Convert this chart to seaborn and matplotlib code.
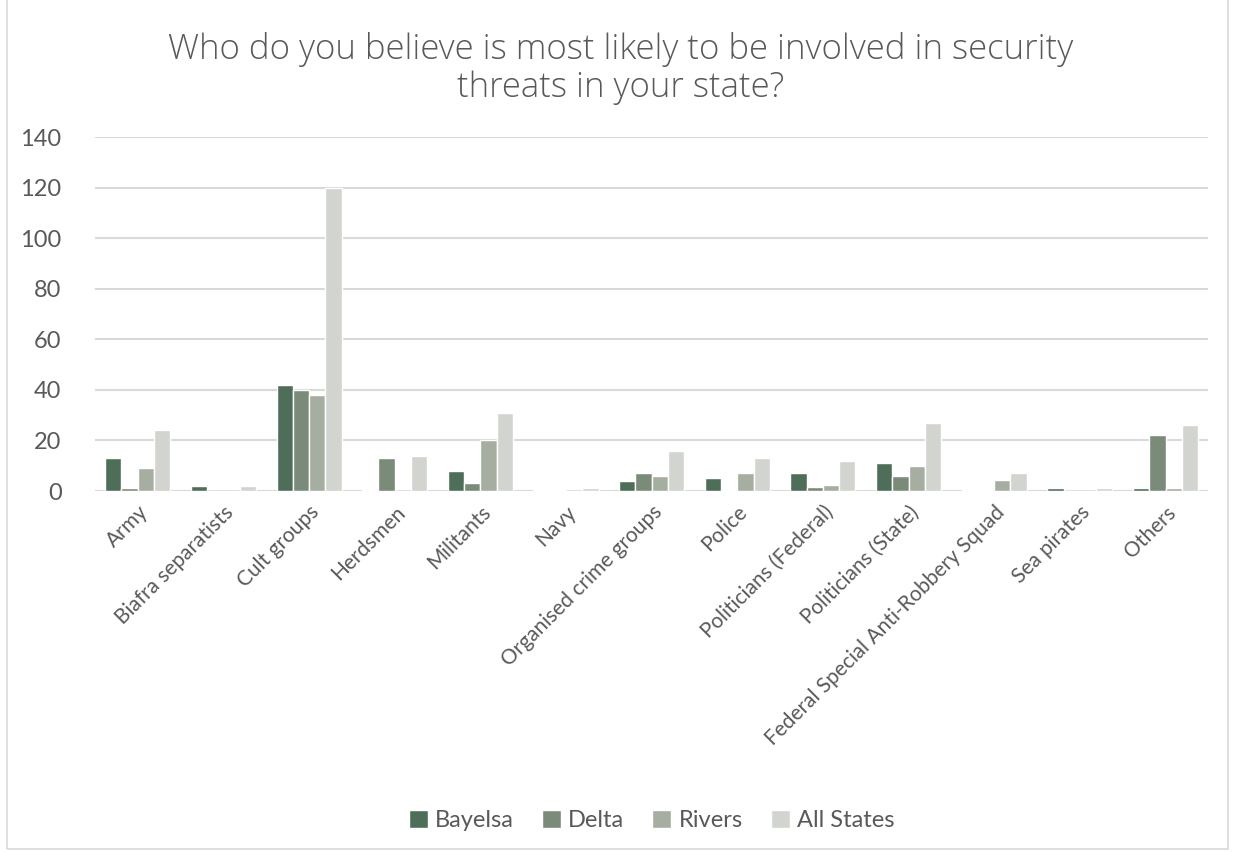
import pandas as pd
import matplotlib.pyplot as plt
import seaborn as sns
from matplotlib.patches import Rectangle

categories = ["Army", "Biafra separatists", "Cult groups", "Herdsmen", "Militants", "Navy",
              "Organised crime groups", "Police", "Politicians (Federal)", "Politicians (State)",
              "Federal Special Anti-Robbery Squad", "Sea pirates", "Others"]
bayelsa = [13, 2, 42, 0.3, 8, 0.3, 4, 5, 7, 11, 0.3, 1, 1]
delta = [1, 0, 40, 13, 3, 0.3, 7, 0.3, 1.5, 6, 0.3, 0, 22]
rivers = [9, 0, 38, 0, 20, 0, 6, 7, 2.5, 10, 4.5, 0, 1]
all_states = [24, 2, 120, 14, 31, 1, 16, 13, 12, 27, 7, 1, 26]
series = ["Bayelsa", "Delta", "Rivers", "All States"]
colors = ["#4f6e5a", "#7a8b7a", "#a6aea1", "#d2d4cf"]

rows = []
for name, vals in zip(series, [bayelsa, delta, rivers, all_states]):
    for cat, v in zip(categories, vals):
        rows.append({"category": cat, "state": name, "count": v})
df = pd.DataFrame(rows)

sns.set_style("white")
plt.rcParams['font.family'] = ['Lato', 'DejaVu Sans']
text_col = "#595959"

fig = plt.figure(figsize=(12.33, 8.52), dpi=100)
ax = fig.add_axes([0.077, 0.4237, 0.903, 0.4155])

sns.barplot(data=df, x="category", y="count", hue="state", palette=colors,
            width=0.76, edgecolor="white", linewidth=1.0, ax=ax, saturation=1)

ax.set_ylim(0, 140)
ax.set_yticks(range(0, 141, 20))
ax.yaxis.grid(True, color="#d9d9d9", linewidth=1.5)
ax.set_axisbelow(True)
for s in ax.spines.values():
    s.set_visible(False)
ax.tick_params(axis="both", length=0)
ax.tick_params(axis="y", labelsize=17, labelcolor=text_col, pad=24)
ax.set_xticks(range(len(categories)))
ax.set_xticklabels(categories, rotation=45, ha="right", rotation_mode="anchor",
                   fontsize=15, color=text_col)
ax.tick_params(axis="x", pad=8)
ax.set_xlabel("")
ax.set_ylabel("")

ax.legend(loc="center", bbox_to_anchor=(0.5, -0.93), ncol=4, frameon=False,
          fontsize=17, labelcolor=text_col, handlelength=0.8, handleheight=0.8,
          handletextpad=0.3, columnspacing=1.2)

fig.suptitle("Who do you believe is most likely to be involved in security\nthreats in your state?",
             x=0.503, y=0.962, fontsize=25, color=text_col, linespacing=1.12,
             family=['Open Sans', 'DejaVu Sans'], fontweight="light")

fig.patches.append(Rectangle((0.006, 0.004), 0.99, 1.2, transform=fig.transFigure,
                             fill=False, edgecolor="#d9d9d9", linewidth=1.2))

plt.savefig("out.png", dpi=100)
